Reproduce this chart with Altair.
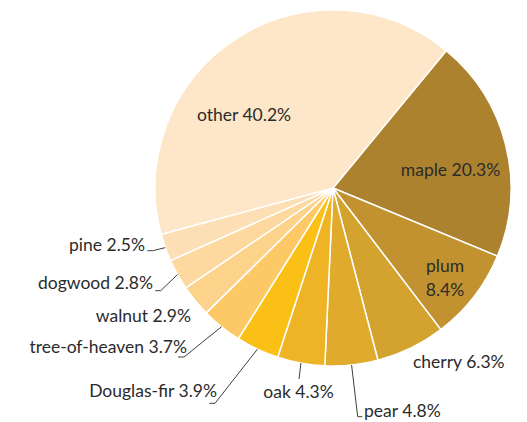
import math
import altair as alt
import pandas as pd

# ---- data ----
categories = ["maple", "plum", "cherry", "pear", "oak", "Douglas-fir",
              "tree-of-heaven", "walnut", "dogwood", "pine", "other"]
shares = [20.3, 8.4, 6.3, 4.8, 4.3, 3.9, 3.7, 2.9, 2.8, 2.5, 40.2]
label_texts = ["maple 20.3%", "plum\n8.4%", "cherry 6.3%", "pear 4.8%", "oak 4.3%",
               "Douglas-fir 3.9%", "tree-of-heaven 3.7%", "walnut 2.9%",
               "dogwood 2.8%", "pine 2.5%", "other 40.2%"]
colors = ["#AC822F", "#C1922F", "#D4A22E", "#E0AA2C", "#EEB425", "#FBC016",
          "#FDC966", "#FDD38B", "#FDD9A0", "#FDDFB5", "#FEE6C9"]

# ---- layout ----
W, H = 511, 414
CX, CY, R = 325, 180, 178
START_DEG = 39.5
FONT = "Lato"
FS = 17.5
TEXT_COLOR = "#2b2b2b"

# label anchors (view px) and alignment
label_layout = {
    "other": (236, 108, "center"),
    "maple": (442.5, 163, "center"),
    "plum": (437, 259, "center"),
    "cherry": (405, 355, "left"),
    "pear": (356, 404, "left"),
    "oak": (290.5, 384.5, "center"),
    "Douglas-fir": (209, 384, "right"),
    "tree-of-heaven": (179, 339.7, "right"),
    "walnut": (183, 309, "right"),
    "dogwood": (145, 276, "right"),
    "pine": (137, 238, "right"),
}
# leader elbows and ends (view px)
leader_layout = {
    "pine": [(144.7, 242.7), (139.3, 242.7)],
    "dogwood": [(152.7, 282.7), (147.3, 282.7)],
    "tree-of-heaven": [(176, 349), (170, 349)],
    "Douglas-fir": [(207, 395.3), (201.3, 395.3)],
    "oak": [(291, 371)],
    "pear": [(349.7, 408.7), (354.3, 408.7)],
}

total = sum(shares)
start_rad = math.radians(START_DEG)

pie_df = pd.DataFrame({"category": categories, "share": shares,
                       "idx": list(range(len(categories)))})

# mid angles of slices, from the data
mids = {}
cum = 0.0
for c, s in zip(categories, shares):
    mids[c] = start_rad + 2 * math.pi * (cum + s / 2) / total
    cum += s

lab_rows = []
for c, t in zip(categories, label_texts):
    x, y, a = label_layout[c]
    lab_rows.append({"category": c, "label": t, "lx": x, "ly": y, "anchor": a})
lab_df = pd.DataFrame(lab_rows)

lead_rows = []
for c, pts in leader_layout.items():
    a = mids[c]
    sx = CX + R * math.sin(a)
    sy = CY - R * math.cos(a)
    allpts = [(sx, sy)] + pts
    for i, (px, py) in enumerate(allpts):
        lead_rows.append({"category": c, "k": i, "px": px, "py": py})
lead_df = pd.DataFrame(lead_rows)

pie = alt.Chart(pie_df).mark_arc(outerRadius=R, stroke="white", strokeWidth=1.5).encode(
    theta=alt.Theta("share:Q", stack=True,
                    scale=alt.Scale(domain=[0, total], range=[start_rad, start_rad + 2 * math.pi], nice=False)),
    order=alt.Order("idx:Q"),
    color=alt.Color("category:N", scale=alt.Scale(domain=categories, range=colors), legend=None),
    x=alt.value(CX),
    y=alt.value(CY),
)

leaders = alt.Chart(lead_df).mark_line(color="#404040", strokeWidth=1).encode(
    x=alt.X("px:Q", scale=None),
    y=alt.Y("py:Q", scale=None),
    detail="category:N",
    order="k:Q",
)

def text_layer(anchor):
    return alt.Chart(lab_df).transform_filter(alt.datum.anchor == anchor).mark_text(
        align=anchor, baseline="middle", font=FONT, fontSize=FS, color=TEXT_COLOR,
        lineBreak="\n", lineHeight=24,
    ).encode(
        x=alt.X("lx:Q", scale=None),
        y=alt.Y("ly:Q", scale=None),
        text="label:N",
    )

chart = alt.layer(pie, leaders, text_layer("center"), text_layer("left"), text_layer("right")).properties(
    width=W, height=H, padding=0, autosize=alt.AutoSizeParams(type="none"),
).configure_view(stroke=None)

chart.save("out.html", embed_options={"renderer": "svg", "actions": False})
